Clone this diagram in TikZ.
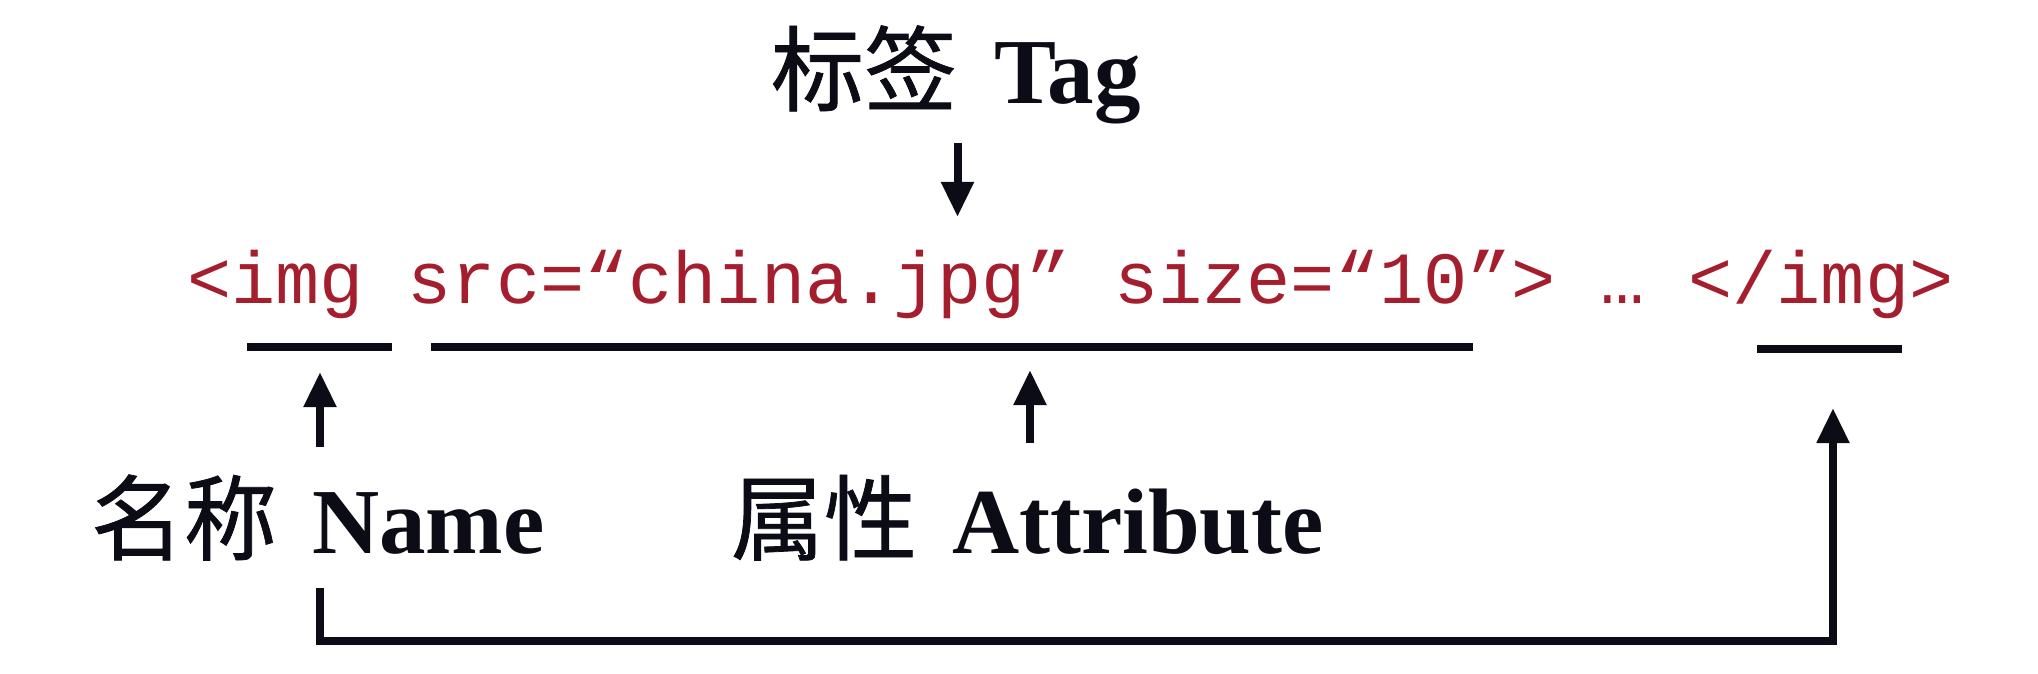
\documentclass[tikz,border=0pt]{standalone}
\usepackage{fontspec}
\setmainfont{Liberation Serif}
\newfontfamily\cjk{Noto Sans CJK SC}[FakeBold=0.8]
\newfontfamily\codefont{Liberation Mono}
\usetikzlibrary{arrows.meta}
\definecolor{ink}{RGB}{12,12,22}
\definecolor{codered}{RGB}{165,30,45}
\tikzset{
  lbl/.style={inner sep=0pt, outer sep=0pt, anchor=base west, text=ink,
    font=\fontsize{93}{100}\selectfont},
  codetext/.style={inner sep=0pt, outer sep=0pt, anchor=base west, text=codered,
    font=\codefont\fontsize{73.6}{80}\selectfont},
  uline/.style={draw=ink, line width=8.5pt},
  pointer/.style={draw=ink, line width=8pt, -{Triangle[length=35pt,width=31pt]}},
}
\begin{document}
\begin{tikzpicture}[x=1pt,y=-1pt]
\useasboundingbox (0,0) rectangle (2038,674);
% labels
\node[lbl] (tag) at (771,104) {{\cjk 标签}\hspace{37pt}\textbf{Tag}};
\node[lbl] (name) at (91,553) {{\cjk 名称}\hspace{35pt}\textbf{Name}};
\node[lbl] (attr) at (731,553) {{\cjk 属性}\hspace{35pt}\textbf{Attribute}};
% code line
\node[codetext] (code) at (187,303) {<img src=“china.jpg” size=“10”> … </img>};
% underlines
\coordinate (u1a) at (247,347); \coordinate (u1b) at (392,347);
\coordinate (u2a) at (431,347); \coordinate (u2b) at (1473,347);
\coordinate (u3a) at (1757,349); \coordinate (u3b) at (1902,349);
\draw[uline] (u1a) -- (u1b);
\draw[uline] (u2a) -- (u2b);
\draw[uline] (u3a) -- (u3b);
% arrows
\coordinate (tagfrom) at (957.5,143); \coordinate (tagto) at (957.5,217);
\coordinate (namefrom) at (320,447); \coordinate (nameto) at (320,372);
\coordinate (attrfrom) at (1030,443); \coordinate (attrto) at (1030,370);
\coordinate (loopfrom) at (320,588); \coordinate (loopto) at (1833,408);
\draw[pointer] (tagfrom) -- (tagto);
\draw[pointer] (namefrom) -- (nameto);
\draw[pointer] (attrfrom) -- (attrto);
\draw[pointer, line join=miter] (loopfrom) -- (320,641) -- (1833,641) -- (loopto);
\end{tikzpicture}
\end{document}
